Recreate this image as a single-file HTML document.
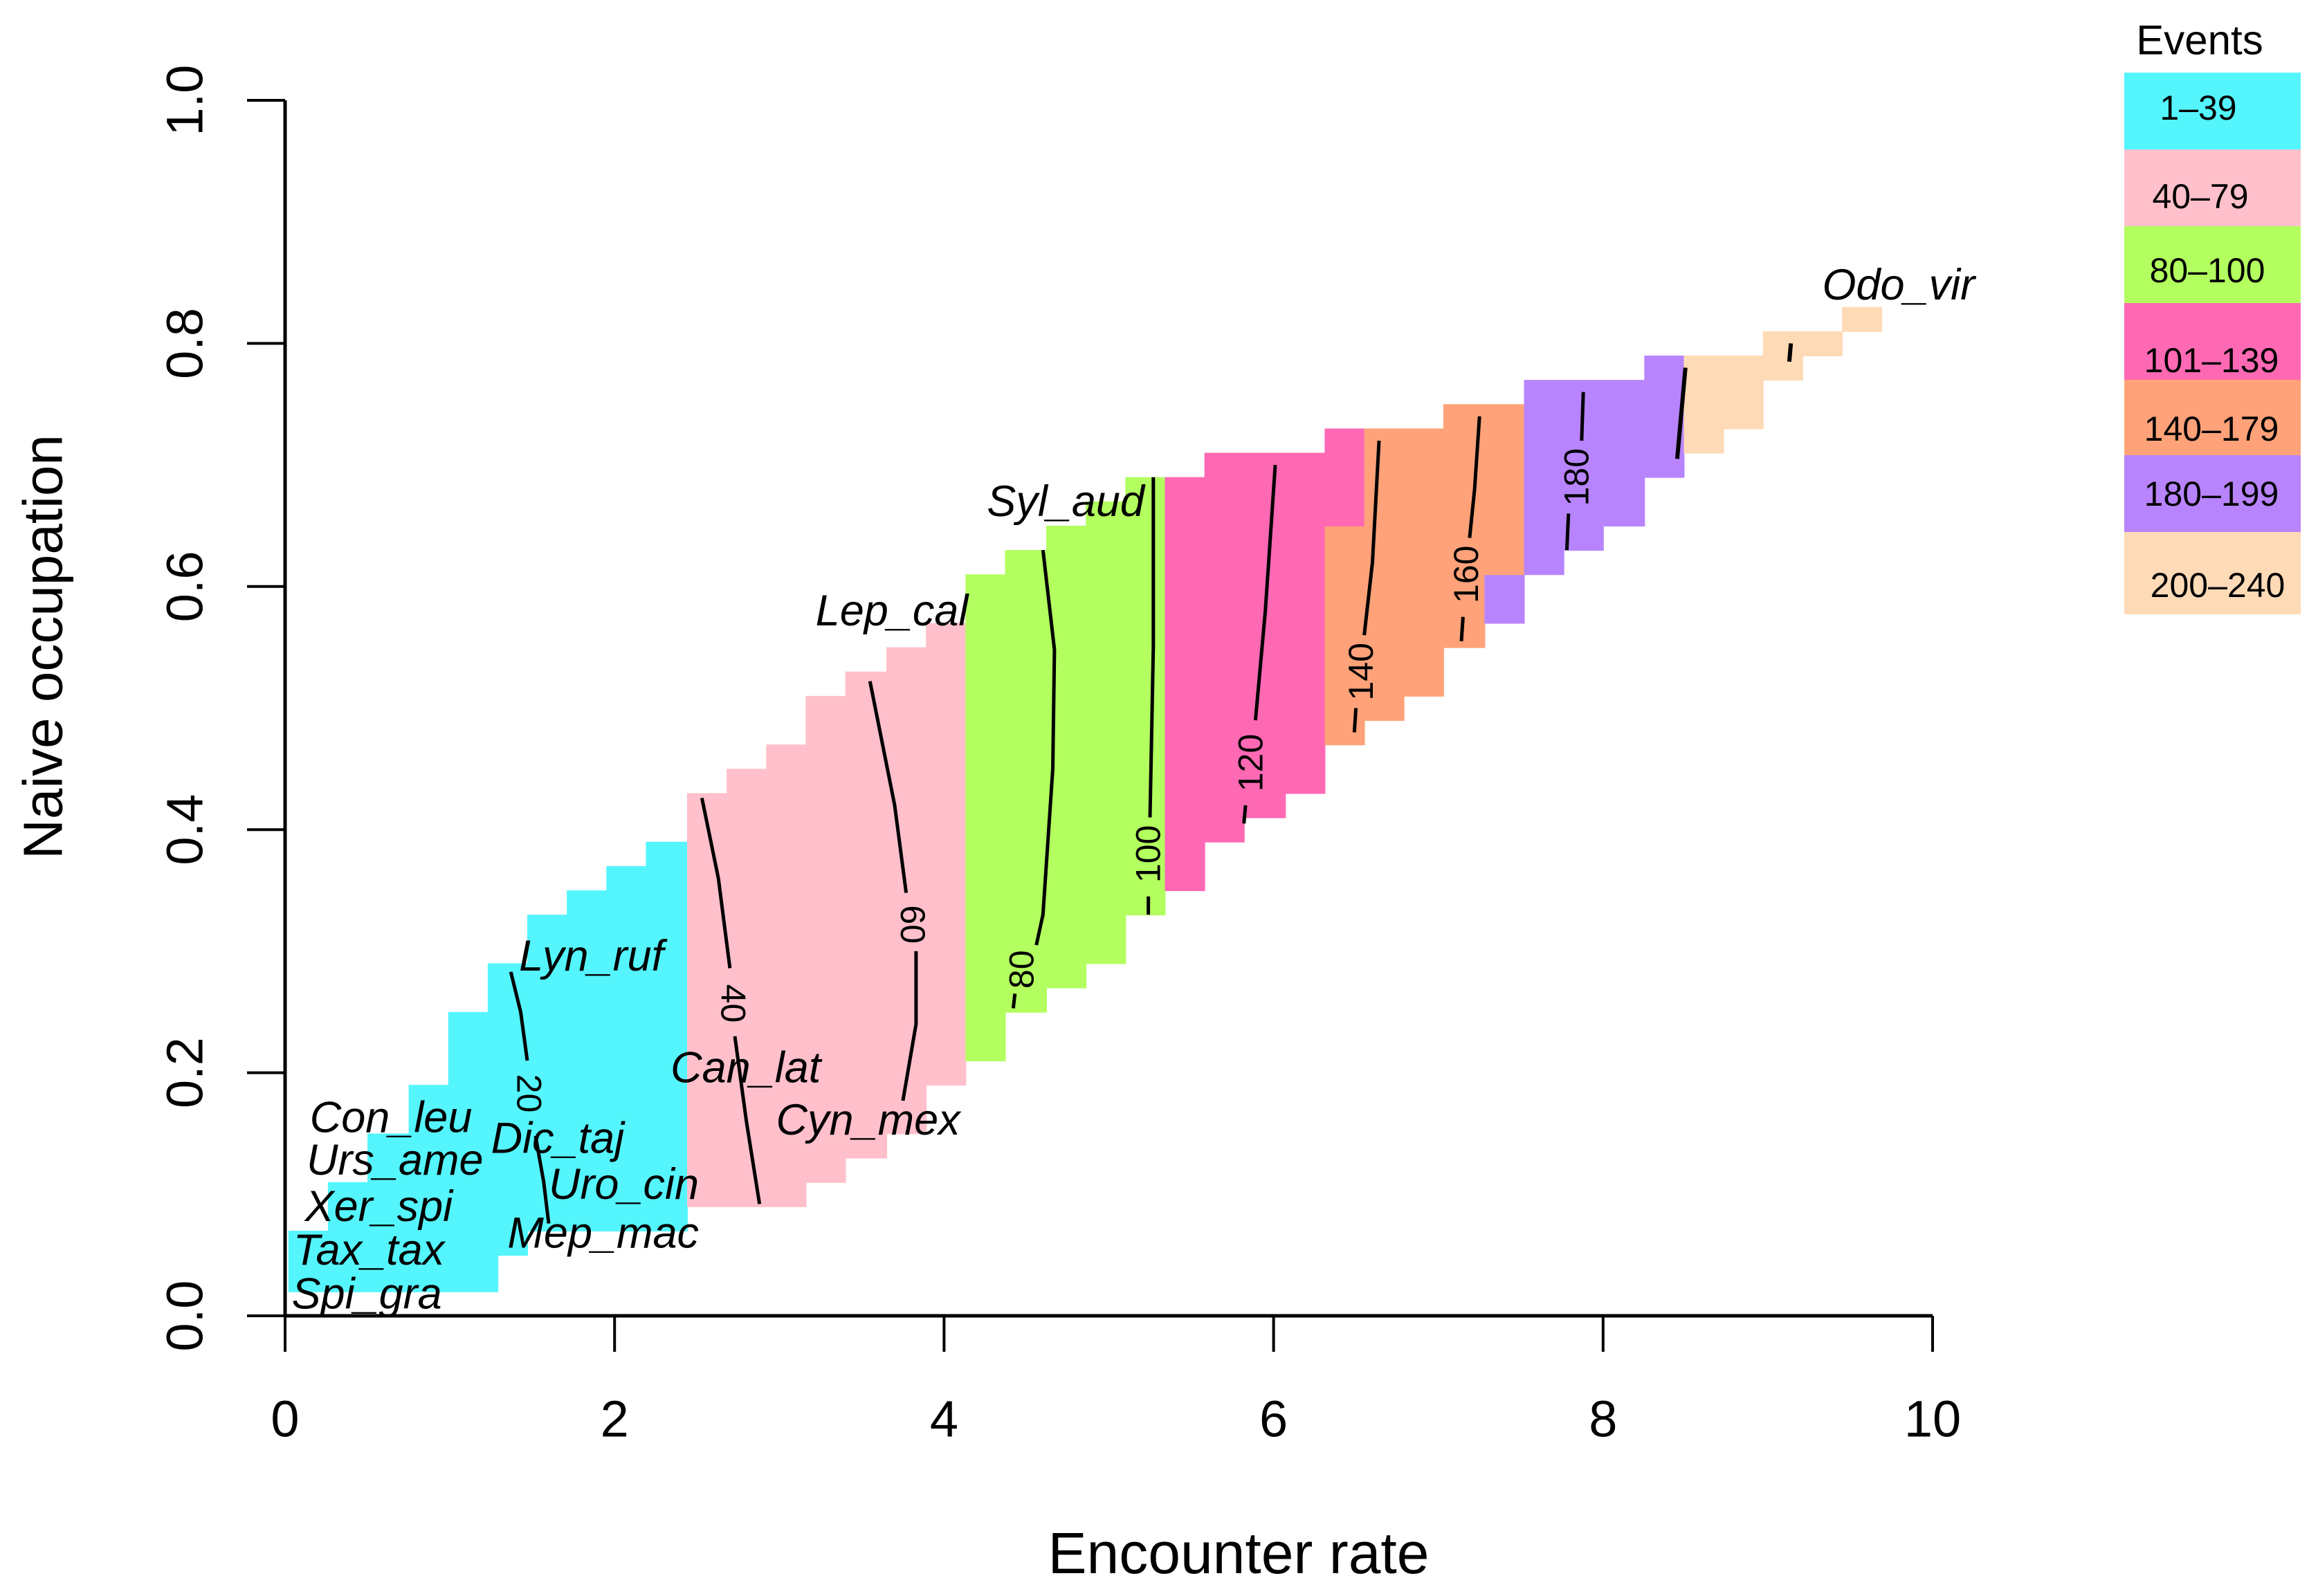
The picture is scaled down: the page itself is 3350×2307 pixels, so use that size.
<!DOCTYPE html>
<html><head><meta charset="utf-8"><style>
html,body{margin:0;padding:0;background:#fff;}
svg{display:block;}
</style></head><body>
<svg id="chart" xmlns="http://www.w3.org/2000/svg" width="3350" height="2307" viewBox="0 0 3350 2307">
<rect width="3350" height="2307" fill="#fff"/>
<g id="cells"></g>
<g id="contours"></g>
<g id="labels"></g>
<g id="axes"></g>
<g id="legend"></g>
</svg>
<script>
// ---- data ----
const colLeft = [0.02,0.26,0.50,0.75,0.99,1.23,1.29,1.47,1.71,1.95,2.19,2.44,2.68,2.92,3.16,3.40,3.65,3.89,4.13,4.37,4.62,4.86,5.10,5.34,5.58,5.82,6.07,6.31,6.55,6.79,7.03,7.28,7.52,7.76,8.00,8.25,8.49,8.73,8.97,9.21,9.45];
const colRight = [0.26,0.50,0.75,0.99,1.23,1.29,1.47,1.71,1.95,2.19,2.44,2.68,2.92,3.16,3.40,3.65,3.89,4.13,4.37,4.62,4.86,5.10,5.34,5.58,5.82,6.07,6.31,6.55,6.79,7.03,7.28,7.52,7.76,8.00,8.25,8.49,8.73,8.97,9.21,9.45,9.69];
const colBottom = [0.02,0.02,0.02,0.02,0.02,0.02,0.05,0.07,0.07,0.07,0.07,0.09,0.09,0.09,0.11,0.13,0.15,0.19,0.21,0.25,0.27,0.29,0.33,0.35,0.39,0.41,0.43,0.47,0.49,0.51,0.55,0.57,0.61,0.63,0.65,0.69,0.71,0.73,0.77,0.79,0.81];
const colTop = [0.07,0.11,0.15,0.19,0.25,0.29,0.29,0.33,0.35,0.37,0.39,0.43,0.45,0.47,0.51,0.53,0.55,0.57,0.61,0.63,0.65,0.67,0.69,0.69,0.71,0.71,0.71,0.73,0.73,0.73,0.75,0.75,0.77,0.77,0.77,0.79,0.79,0.79,0.81,0.81,0.83];
const colClass = [0,0,0,0,0,0,0,0,0,0,0,1,1,1,1,1,1,1,2,2,2,2,2,3,3,3,3,4,4,4,4,4,5,5,5,5,6,6,6,6,6];
const splitCol = [27,31];
const splitClass = [4,5];
const splitAt = [0.65,0.61];
const splitTopClass = [3,4];

const legendLabels = ["1\u201339","40\u201379","80\u2013100","101\u2013139","140\u2013179","180\u2013199","200\u2013240"];
const classColors = ["#55F5FE","#FFC0CB","#B3FF5F","#FF69B4","#FFA279","#B884FD","#FFDAB7"];

const contourLevels = ["20","40","60","80","100","120","140","160","180"];
const contourA = [
 [[1.37,0.283],[1.43,0.25],[1.47,0.21]],
 [[2.53,0.426],[2.63,0.36],[2.70,0.286]],
 [[3.55,0.522],[3.70,0.42],[3.77,0.348]],
 [[4.60,0.63],[4.67,0.548],[4.66,0.45],[4.60,0.33],[4.56,0.305]],
 [[5.27,0.69],[5.27,0.55],[5.25,0.41]],
 [[6.01,0.70],[5.95,0.58],[5.89,0.49]],
 [[6.64,0.72],[6.60,0.62],[6.55,0.56]],
 [[7.25,0.74],[7.22,0.68],[7.19,0.64]],
 [[7.88,0.76],[7.87,0.72]]
];
const contourB = [
 [[1.52,0.148],[1.57,0.11],[1.60,0.076]],
 [[2.73,0.23],[2.80,0.16],[2.88,0.092]],
 [[3.83,0.30],[3.83,0.24],[3.75,0.177]],
 [[4.43,0.265],[4.42,0.253]],
 [[5.24,0.345],[5.24,0.33]],
 [[5.83,0.42],[5.82,0.405]],
 [[6.50,0.50],[6.49,0.48]],
 [[7.15,0.575],[7.14,0.555]],
 [[7.79,0.66],[7.78,0.63]]
];
const contourLabelX = [1.48,2.72,3.81,4.47,5.24,5.86,6.53,7.17,7.84];
const contourLabelY = [0.183,0.257,0.322,0.285,0.38,0.455,0.53,0.61,0.69];
const contourLabelRot = [90,90,90,-90,-90,-90,-90,-90,-90];
const extraContours = [
 [[8.50,0.78],[8.45,0.705]],
 [[9.14,0.80],[9.13,0.785]]
];

const speciesNames = ["Con_leu","Urs_ame","Xer_spi","Tax_tax","Spi_gra","Lyn_ruf","Dic_taj","Uro_cin","Mep_mac","Can_lat","Cyn_mex","Lep_cal","Syl_aud","Odo_vir"];
const speciesX = [0.15,0.13,0.12,0.05,0.04,1.42,1.25,1.60,1.35,2.34,2.98,3.22,4.26,9.33];
const speciesY = [0.163,0.128,0.09,0.054,0.018,0.296,0.146,0.108,0.068,0.204,0.161,0.58,0.67,0.848];

const xTicks = [0,2,4,6,8,10];
const yTicks = [0,0.2,0.4,0.6,0.8,1.0];
const yTickLabels = ["0.0","0.2","0.4","0.6","0.8","1.0"];

// ---- scales ----
const sx = v => 412 + v*238.1;
const sy = v => 1902 - v*1757;
const NS = "http://www.w3.org/2000/svg";
function mk(tag, attrs, parent){ const e=document.createElementNS(NS,tag); for(const k in attrs) e.setAttribute(k,attrs[k]); parent.appendChild(e); return e; }

const cells = document.getElementById('cells');
function cell(x0,x1,y0,y1,cls){
  const r = mk('rect',{x:sx(x0),y:sy(y1),width:sx(x1)-sx(x0)+1,height:sy(y0)-sy(y1)+1,fill:classColors[cls]},cells);
  
  
}
for(let i=0;i<colLeft.length;i++){
  const si = splitCol.indexOf(i);
  if(si>=0){
    cell(colLeft[i],colRight[i],colBottom[i],splitAt[si],splitClass[si]);
    cell(colLeft[i],colRight[i],splitAt[si],colTop[i],splitTopClass[si]);
  } else {
    cell(colLeft[i],colRight[i],colBottom[i],colTop[i],colClass[i]);
  }
}

const cg = document.getElementById('contours');
const pts = arr => arr.map(p=>sx(p[0]).toFixed(1)+','+sy(p[1]).toFixed(1)).join(' ');
for(let i=0;i<contourLevels.length;i++){
  const a = mk('polyline',{points:pts(contourA[i]),fill:'none',stroke:'#000','stroke-width':5},cg);
  
  
  const b = mk('polyline',{points:pts(contourB[i]),fill:'none',stroke:'#000','stroke-width':5},cg);
  
  
  const lx=sx(contourLabelX[i]), ly=sy(contourLabelY[i]);
  const t = mk('text',{x:lx,y:ly,'text-anchor':'middle','dominant-baseline':'central','font-family':'Liberation Sans, sans-serif','font-size':50,transform:`rotate(${contourLabelRot[i]} ${lx} ${ly})`},cg);
  t.textContent = contourLevels[i];
  
  
}
for(const seg of extraContours){
  const e = mk('polyline',{points:pts(seg),fill:'none',stroke:'#000','stroke-width':6},cg);
  
  
}

const lg = document.getElementById('labels');
for(let i=0;i<speciesNames.length;i++){
  const t = mk('text',{x:sx(speciesX[i]),y:sy(speciesY[i]),'dominant-baseline':'central','font-family':'Liberation Sans, sans-serif','font-style':'italic','font-size':63},lg);
  t.textContent = speciesNames[i];
  
  
}

const ax = document.getElementById('axes');
let l = mk('line',{x1:sx(0),y1:sy(0),x2:sx(10),y2:sy(0),stroke:'#000','stroke-width':5},ax);
 
l = mk('line',{x1:sx(0),y1:sy(0),x2:sx(0),y2:sy(1),stroke:'#000','stroke-width':5},ax);
 
for(const v of xTicks){
  const tk = mk('line',{x1:sx(v),y1:sy(0),x2:sx(v),y2:sy(0)+52,stroke:'#000','stroke-width':4},ax);
   
  const t = mk('text',{x:sx(v),y:2051,'text-anchor':'middle','dominant-baseline':'central','font-family':'Liberation Sans, sans-serif','font-size':74},ax);
  t.textContent = String(v);
   
}
for(let i=0;i<yTicks.length;i++){
  const y = sy(yTicks[i]);
  const tk = mk('line',{x1:sx(0)-55,y1:y,x2:sx(0),y2:y,stroke:'#000','stroke-width':4},ax);
   
  const t = mk('text',{x:267,y:y,'text-anchor':'middle','dominant-baseline':'central','font-family':'Liberation Sans, sans-serif','font-size':74,transform:`rotate(-90 267 ${y})`},ax);
  t.textContent = yTickLabels[i];
   
}
let tt = mk('text',{x:1790,y:2245,'text-anchor':'middle','dominant-baseline':'central','font-family':'Liberation Sans, sans-serif','font-size':84},ax);
tt.textContent='Encounter rate';
 
tt = mk('text',{x:62,y:935,'text-anchor':'middle','dominant-baseline':'central','font-family':'Liberation Sans, sans-serif','font-size':80,transform:'rotate(-90 62 935)'},ax);
tt.textContent='Naive occupation';
 

const lgd = document.getElementById('legend');
const boxY = [105,216,327,438,549,658,769,887];
const textY = [156,284,391,521,620,714,846];
const textX = [3177,3180,3190,3196,3196,3196,3205];
tt = mk('text',{x:3179,y:58,'text-anchor':'middle','dominant-baseline':'central','font-family':'Liberation Sans, sans-serif','font-size':60},lgd);
tt.textContent='Events';
 
for(let i=0;i<legendLabels.length;i++){
  const r = mk('rect',{x:3070,y:boxY[i],width:255,height:boxY[i+1]-boxY[i]+1,fill:classColors[i]},lgd);
   
  const t = mk('text',{x:textX[i],y:textY[i],'text-anchor':'middle','dominant-baseline':'central','font-family':'Liberation Sans, sans-serif','font-size':50},lgd);
  t.textContent = legendLabels[i];
   
}
</script>
</body></html>
